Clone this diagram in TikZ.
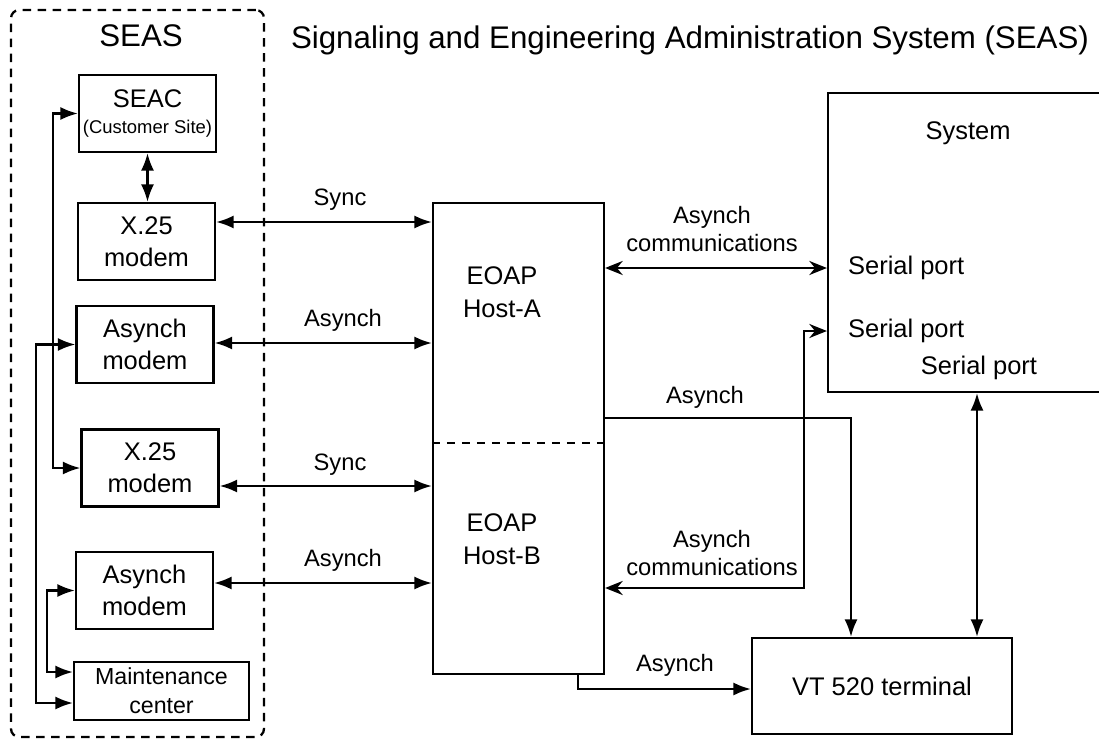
\documentclass[tikz,border=0pt]{standalone}
\usepackage{fontspec}
\setmainfont{Liberation Sans}
\usetikzlibrary{arrows.meta}

\begin{document}
\begin{tikzpicture}[x=0.02cm,y=-0.02cm,line width=1.3pt,
  box/.style={draw,rectangle,align=center,inner sep=0pt,font=\fontsize{14.5}{18}\selectfont},
  modem/.style={box,minimum width=2.74cm,minimum height=1.54cm},
  txt/.style={align=center,inner sep=0pt,font=\fontsize{14.5}{18.5}\selectfont},
  lbl/.style={align=center,inner sep=0pt,font=\fontsize{13.5}{15.5}\selectfont},
  big/.style={inner sep=0pt,font=\fontsize{17.8}{21}\selectfont},
  dashline/.style={dash pattern=on 0.17cm off 0.13cm},
  dbl/.style={{Latex[length=10pt,width=7.5pt]}-{Latex[length=10pt,width=7.5pt]}},
  one/.style={-{Latex[length=10pt,width=7.5pt]}},
  sdbl/.style={{Stealth[length=10pt,width=8pt]}-{Stealth[length=10pt,width=8pt]}}]
\useasboundingbox (0,0) rectangle (1099,740);

% SEAS side
\node[draw,dashline,rounded corners=0.16cm,minimum width=5.06cm,minimum height=14.54cm] (seas) at (137.5,373.5) {};
\node[big] (seastitle) at (141,36) {SEAS};
\node[big] (title) at (690,40) {Signaling and Engineering Administration System (SEAS)};

\node[modem] (seac) at (147.5,113.5) {SEAC\\[-3pt]{\fontsize{10.5}{12}\selectfont(Customer Site)}};
\node[modem] (x25a) at (146.5,241.5) {X.25\\modem};
\node[modem] (asya) at (145,344.5) {Asynch\\modem};
\node[modem] (x25b) at (150,468) {X.25\\modem};
\node[modem] (asyb) at (144.5,590.5) {Asynch\\modem};
\node[box,minimum width=3.5cm,minimum height=1.16cm,font=\fontsize{13.2}{16.5}\selectfont] (maint) at (161.5,691) {Maintenance\\center};

% hosts
\node[box,minimum width=3.42cm,minimum height=9.42cm] (host) at (518.5,438.5) {};
\node[txt] (hosta) at (502,292) {EOAP\\Host-A};
\node[txt] (hostb) at (502,539) {EOAP\\Host-B};
\coordinate (kdiv) at (0,443);
\draw[dashline] (host.west |- kdiv) -- (host.east |- kdiv);

% system and terminal
\node[draw,minimum width=5.52cm,minimum height=5.98cm] (sys) at (966,242.5) {};
\node[txt] (systxt) at (968,133) {System};
\node[txt,anchor=west] (sp1) at (847,268) {Serial port};
\node[txt,anchor=west] (sp2) at (847,331) {Serial port};
\node[txt] (sp3) at (979,368) {Serial port};
\node[box,minimum width=5.2cm,minimum height=1.92cm] (vt) at (882,686) {VT 520 terminal};

% left buses
\coordinate (busA) at (53,0);
\coordinate (busB) at (36,0);
\coordinate (busC) at (47,0);
\coordinate (mlow) at ([yshift=-0.24cm]maint.west);
\coordinate (mhigh) at ([yshift=0.38cm]maint.west);
\draw[dbl] (seac.south) -- (seac.south |- x25a.north);
\draw[dbl] (seac.west) -| (busA |- x25b.west) -- (x25b.west);
\draw[dbl] (asya.west) -| (busB |- mlow) -- (mlow);
\draw[dbl] (asyb.west) -| (busC |- mhigh) -- (mhigh);

% modems to hosts
\coordinate (l1) at (0,222);
\coordinate (l2) at (0,343);
\coordinate (l3) at (0,486);
\coordinate (l4) at (0,583);
\draw[dbl] (x25a.east |- l1) -- (host.west |- l1);
\draw[dbl] (asya.east |- l2) -- (host.west |- l2);
\draw[dbl] (x25b.east |- l3) -- (host.west |- l3);
\draw[dbl] (asyb.east |- l4) -- (host.west |- l4);
\node[lbl] (lsync1) at (340,200) {Sync};
\node[lbl] (lasy1) at (343,320) {Asynch};
\node[lbl] (lsync2) at (340,465) {Sync};
\node[lbl] (lasy2) at (343,560) {Asynch};

% hosts to system and terminal
\coordinate (kA) at (851,418);
\coordinate (kB) at (804,588);
\coordinate (kC) at (578,689);
\coordinate (kD) at (977,0);
\draw[sdbl] (host.east |- sp1.west) -- (sys.west |- sp1.west);
\draw[sdbl] (host.east |- kB) -- (kB) |- (sys.west |- sp2.west);
\draw[one] (host.east |- kA) -- (kA) -- (kA |- vt.north);
\draw[one] (host.south -| kC) |- (vt.west |- kC);
\draw[dbl] (sys.south -| kD) -- (vt.north -| kD);
\node[lbl] (lcomA) at (712,229) {Asynch\\communications};
\node[lbl] (lcomB) at (712,553) {Asynch\\communications};
\node[lbl] (lvtA) at (705,397) {Asynch};
\node[lbl] (lvtB) at (675,665) {Asynch};
\end{tikzpicture}
\end{document}
